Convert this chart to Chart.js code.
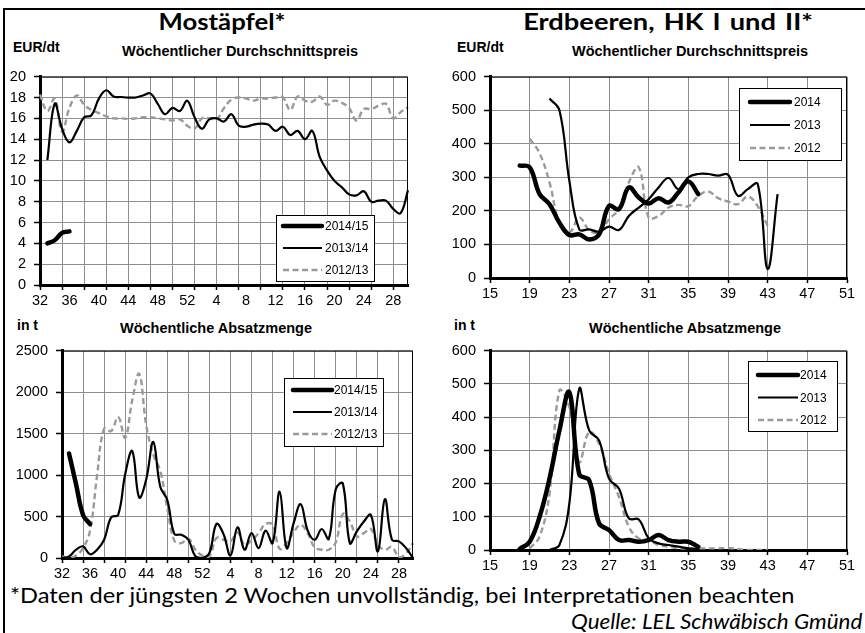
<!DOCTYPE html>
<html>
<head>
<meta charset="utf-8">
<script src="https://cdn.jsdelivr.net/npm/chart.js@4.4.1/dist/chart.umd.min.js"></script>
<style>
body { margin: 0; background: #fff; width: 865px; height: 633px; overflow: hidden; position: relative; font-family: "Liberation Sans", Arial, sans-serif; }
canvas { position: absolute; }
.t { position: absolute; white-space: nowrap; color: #000; line-height: 1; }
.big { font-family: Lato, "Open Sans", sans-serif; font-weight: bold; font-size: 22px; transform: translateX(-50%) scaleX(1.17); }
.unit { font-weight: bold; font-size: 14px; }
.sub { font-weight: bold; font-size: 14.5px; transform: translateX(-50%); }
.note { font-family: Lato, "Open Sans", sans-serif; font-size: 22px; transform-origin: 0 0; transform: scaleX(1.075); }
.src { font-family: Lato, "Open Sans", sans-serif; font-size: 22px; font-style: italic; transform-origin: 0 0; transform: scaleX(1.02); }
.line { position: absolute; background: #000; }
</style>
</head>
<body>
<div class="line" style="left:3px;top:8px;width:862px;height:2px"></div>
<div class="line" style="left:3px;top:8px;width:2px;height:625px"></div>

<div class="t big" style="left:222px;top:11px">Mostäpfel*</div>
<div class="t big" style="left:668px;top:11px;word-spacing:2px;transform:translateX(-50%) scaleX(1.24)">Erdbeeren, HK I und II*</div>

<div class="t unit" style="left:13px;top:40px">EUR/dt</div>
<div class="t sub" style="left:240px;top:44px">Wöchentlicher Durchschnittspreis</div>
<div class="t unit" style="left:457px;top:40px">EUR/dt</div>
<div class="t sub" style="left:690px;top:44px">Wöchentlicher Durchschnittspreis</div>

<div class="t unit" style="left:17px;top:318px">in t</div>
<div class="t sub" style="left:216px;top:321px">Wöchentliche Absatzmenge</div>
<div class="t unit" style="left:454px;top:318px">in t</div>
<div class="t sub" style="left:685px;top:321px">Wöchentliche Absatzmenge</div>

<div class="t note" style="left:10px;top:584px">*Daten der jüngsten 2 Wochen unvollständig, bei Interpretationen beachten</div>
<div class="t src" style="left:571px;top:610px">Quelle: LEL Schwäbisch Gmünd</div>

<canvas id="applePrice" width="430" height="256" style="left:0px;top:60px"></canvas>
<canvas id="berryPrice" width="425" height="250" style="left:440px;top:60px"></canvas>
<canvas id="appleVolume" width="420" height="254" style="left:10px;top:334px"></canvas>
<canvas id="berryVolume" width="425" height="250" style="left:440px;top:334px"></canvas>

<script>
// Kalenderwochen
const appleWeeks = [32,33,34,35,36,37,38,39,40,41,42,43,44,45,46,47,48,49,50,51,52,
  1,2,3,4,5,6,7,8,9,10,11,12,13,14,15,16,17,18,19,20,21,22,23,24,25,26,27,28,29,30];
const berryWeeks = [15,16,17,18,19,20,21,22,23,24,25,26,27,28,29,30,31,32,33,34,35,36,37,38,39,40,
  41,42,43,44,45,46,47,48,49,50,51];

const appleSeasons = ['2014/15', '2013/14', '2012/13'];
const berrySeasons = ['2014', '2013', '2012'];

// Mostäpfel, EUR/dt
const applePrice1415 = [null, 4.0, 4.3, 5.0, 5.15];
const applePrice1314 = [null, 12.0, 17.4, 15.0, 13.7, 14.8, 16.1, 16.3, 17.9, 18.7, 18.1, 18.05, 18.0, 18.0,
  18.2, 18.4, 17.4, 16.4, 17.0, 16.7, 17.7, 16.1, 15.0, 15.9, 16.0, 15.7, 16.4, 15.3, 15.2, 15.4, 15.5, 15.4,
  14.8, 15.2, 14.4, 14.8, 14.0, 14.8, 12.3, 11.0, 10.0, 9.4, 8.7, 8.6, 9.0, 8.0, 8.1, 8.1, 7.3, 6.9, 9.1];
const applePrice1213 = [18.3, 16.7, 17.9, 14.7, 17.0, 18.2, 17.3, 16.8, 16.5, 16.2, 16.0, 16.0, 15.95, 16.0,
  16.1, 16.1, 16.0, 15.9, 15.8, 15.9, 15.3, 15.0, 16.0, 16.0, 15.9, 17.0, 17.8, 18.0, 17.9, 17.7, 17.9, 17.9,
  18.0, 18.0, 16.8, 18.1, 17.7, 17.6, 18.1, 17.3, 17.7, 17.5, 17.0, 15.8, 16.9, 16.9, 17.2, 17.4, 16.0, 16.6, 17.1];

// Mostäpfel, t
const appleVol1415 = [null, 1260, 890, 520, 410];
const appleVol1314 = [0, 20, 100, 140, 45, 100, 220, 490, 520, 1010, 1290, 730, 950, 1400, 860, 700, 290,
  280, 220, 20, 0, 60, 410, 290, 30, 370, 100, 300, 120, 330, 180, 800, 120, 420, 650, 330, 220, 350, 230,
  830, 900, 180, 320, 440, 520, 80, 710, 220, 200, 120, 0];
const appleVol1213 = [20, 0, 30, 120, 330, 1000, 1560, 1530, 1700, 1450, 1900, 2220, 1600, 1250, 1050, 600,
  210, 180, 235, 100, 28, 20, 240, 220, 200, 310, 160, 210, 300, 410, 400, 110, 180, 310, 400, 300, 125, 100,
  100, 190, 530, 440, 260, 300, 350, 160, 100, 135, 10, 55, 180];

// Erdbeeren, EUR/dt (ab KW 15)
const berryPrice2014 = [null, null, null, 335, 330, 250, 220, 165, 128, 130, 115, 130, 215, 205, 270, 240,
  222, 238, 225, 255, 288, 250];
const berryPrice2013 = [null, null, null, null, null, null, 535, 500, 290, 145, 145, 138, 153, 143, 185, 210,
  235, 270, 298, 265, 300, 310, 310, 305, 308, 245, 265, 280, 27, 250];
const berryPrice2012 = [null, null, null, null, 415, 372, 285, 165, 135, 180, 143, 135, 175, 205, 285, 330,
  180, 185, 210, 218, 214, 245, 258, 238, 228, 220, 243, 214, 155];

// Erdbeeren, t
const berryVol2014 = [null, null, null, 3, 25, 100, 215, 360, 475, 228, 210, 80, 60, 30, 30, 25, 30, 45, 30,
  25, 25, 10];
const berryVol2013 = [null, null, null, null, null, null, 0, 15, 140, 485, 360, 330, 215, 185, 95, 92, 35,
  20, 15, 10, 5, 3];
const berryVol2012 = [null, null, null, null, 5, 40, 170, 480, 430, 265, 355, 320, 230, 160, 70, 35, 30, 15,
  10, 5, 5, 5, 5, 5, 6, 3, 0, 0, 0];

Chart.defaults.font.family = '"Liberation Sans", Arial, sans-serif';
Chart.defaults.color = '#000';
Chart.defaults.animation = false;

const GRID = '#8f8f8f';

const plotFrame = {
  id: 'plotFrame',
  afterDatasetsDraw(chart) {
    const { ctx, chartArea: a } = chart;
    ctx.save();
    ctx.strokeStyle = '#000';
    ctx.lineWidth = 1;
    ctx.beginPath();
    ctx.moveTo(a.left, a.top + 0.5);
    ctx.lineTo(a.right - 0.5, a.top + 0.5);
    ctx.lineTo(a.right - 0.5, a.bottom);
    ctx.stroke();
    ctx.restore();
  }
};

const boxLegend = {
  id: 'boxLegend',
  afterDraw(chart, args, o) {
    const { ctx, chartArea: a } = chart;
    const x = Math.round(a.left + o.x), y = Math.round(a.top + o.y);
    ctx.save();
    ctx.fillStyle = '#fff';
    ctx.fillRect(x, y, o.w, o.h);
    ctx.strokeStyle = '#000';
    ctx.lineWidth = 1;
    ctx.strokeRect(x + 0.5, y + 0.5, o.w, o.h);
    chart.data.datasets.forEach((ds, i) => {
      const ly = y + o.row0 + i * o.gap;
      ctx.beginPath();
      ctx.setLineDash(ds.borderDash || []);
      ctx.lineWidth = ds.borderWidth;
      ctx.strokeStyle = ds.borderColor;
      ctx.lineCap = ds.borderCapStyle || 'butt';
      ctx.moveTo(x + o.l0, ly);
      ctx.lineTo(x + o.l1, ly);
      ctx.stroke();
      ctx.setLineDash([]);
      ctx.fillStyle = '#000';
      ctx.font = '12px "Liberation Sans", Arial, sans-serif';
      ctx.textBaseline = 'middle';
      ctx.fillText(ds.label, x + o.tx, ly + 1);
    });
    ctx.restore();
  }
};

function seriesSet(labels, values) {
  return [
    { label: labels[0], data: values[0], borderColor: '#000', borderWidth: 4.5, borderCapStyle: 'round' },
    { label: labels[1], data: values[1], borderColor: '#000', borderWidth: 2.2 },
    { label: labels[2], data: values[2], borderColor: '#9a9a9a', borderWidth: 2.4, borderDash: [6, 3.5] }
  ];
}

function makeChart(el, weeks, datasets, yMax, yStep, lay, legend, gridEvery, labelEvery) {
  new Chart(el, {
    type: 'line',
    data: { labels: weeks, datasets: datasets },
    plugins: [plotFrame, boxLegend],
    options: {
      responsive: false,
      layout: { padding: { top: lay.top, right: lay.right, left: 0, bottom: 0 } },
      elements: { point: { radius: 0, hoverRadius: 0 }, line: { tension: 0.4, fill: false } },
      plugins: { legend: { display: false }, tooltip: { enabled: false }, boxLegend: legend },
      scales: {
        x: {
          type: 'category',
          offset: false,
          afterFit(s) { s.height = lay.xh; },
          ticks: {
            autoSkip: false, maxRotation: 0, padding: 2,
            font: { size: 14.5 },
            callback(v, i) { return i % labelEvery === 0 ? this.getLabelForValue(v) : ''; }
          },
          grid: {
            offset: false,
            color: c => c.index % gridEvery === 0 ? GRID : 'rgba(0,0,0,0)',
            tickColor: c => c.index % gridEvery === 0 ? '#000' : 'rgba(0,0,0,0)',
            tickLength: 5,
            tickWidth: 1.5
          },
          border: { color: '#000', width: 3 }
        },
        y: {
          min: 0, max: yMax,
          afterFit(s) { s.width = lay.yw; },
          ticks: { stepSize: yStep, padding: 8, font: { size: 14.5 }, callback: v => String(v) },
          grid: { color: GRID, tickColor: '#000', tickLength: 6, tickWidth: 1.5 },
          border: { color: '#000', width: 3 }
        }
      }
    }
  });
}

makeChart('applePrice', appleWeeks,
  seriesSet(appleSeasons, [applePrice1415, applePrice1314, applePrice1213]), 20, 2,
  { top: 14, right: 22, yw: 40, xh: 31 },
  { x: 236, y: 138, w: 98, h: 66, row0: 11, gap: 22, l0: 7, l1: 46, tx: 49 }, 3, 4);

makeChart('berryPrice', berryWeeks,
  seriesSet(berrySeasons, [berryPrice2014, berryPrice2013, berryPrice2012]), 600, 100,
  { top: 14, right: 18, yw: 50, xh: 32 },
  { x: 249, y: 11, w: 102, h: 72, row0: 14, gap: 23, l0: 11, l1: 51, tx: 55 }, 4, 4);

makeChart('appleVolume', appleWeeks,
  seriesSet(appleSeasons, [appleVol1415, appleVol1314, appleVol1213]), 2500, 500,
  { top: 14, right: 17, yw: 52, xh: 30 },
  { x: 222, y: 27, w: 99, h: 68, row0: 12, gap: 22, l0: 9, l1: 48, tx: 50 }, 3, 4);

makeChart('berryVolume', berryWeeks,
  seriesSet(berrySeasons, [berryVol2014, berryVol2013, berryVol2012]), 600, 100,
  { top: 14, right: 18, yw: 50, xh: 34 },
  { x: 258, y: 10, w: 89, h: 70, row0: 14, gap: 22.5, l0: 10, l1: 50, tx: 52 }, 4, 4);
</script>
</body>
</html>
